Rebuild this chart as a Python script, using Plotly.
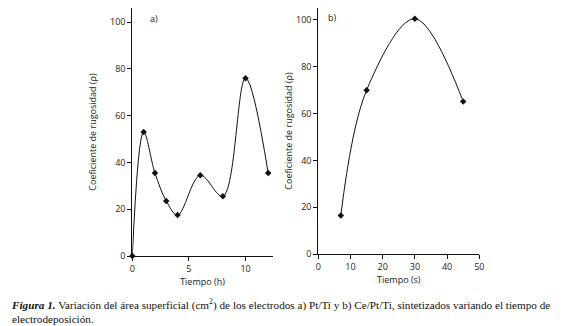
import plotly.graph_objects as go

# Panel a data
time_h = [0, 1, 2, 3, 4, 6, 8, 10, 12]
rug_a = [0, 53, 35.5, 23.5, 17.5, 34.5, 25.5, 76, 35.5]
# Panel b data
time_s = [7, 15, 30, 45]
rug_b = [16.5, 70, 100.5, 65.2]

ytitle = "Coeficiente de rugosidad (ρ)"

# page body has an 8px margin: size the figure so it fills the window
OFF = 8
W, H = 573 - OFF, 326 - OFF


def xp(X):
    return (X - OFF) / W


def yp(Y):
    return 1 - (Y - OFF) / H


fig = go.Figure()
fig.add_trace(go.Scatter(x=time_h, y=rug_a, mode="lines+markers",
                         line=dict(shape="spline", smoothing=1.0, color="#111", width=1),
                         marker=dict(symbol="diamond", size=5, color="#111"),
                         xaxis="x", yaxis="y", showlegend=False, cliponaxis=False))
fig.add_trace(go.Scatter(x=time_s, y=rug_b, mode="lines+markers",
                         line=dict(shape="spline", smoothing=1.0, color="#111", width=1),
                         marker=dict(symbol="diamond", size=5, color="#111"),
                         xaxis="x2", yaxis="y2", showlegend=False, cliponaxis=False))

tickfont = dict(family="Open Sans, sans-serif", size=9, color="#222")
titlefont = dict(family="Open Sans, sans-serif", size=9, color="#222")
common = dict(showline=True, linecolor="#111", linewidth=1, ticks="outside", ticklen=4,
              tickcolor="#111", showgrid=False, zeroline=False, tickfont=tickfont,
              automargin=False)

fig.update_layout(
    width=W, height=H, margin=dict(l=0, r=0, t=0, b=0, autoexpand=False),
    paper_bgcolor="white", plot_bgcolor="white",
    xaxis=dict(domain=[xp(132.3), xp(272.7)], range=[0, 12.4], tickvals=[0, 5, 10],
               anchor="y", title=dict(text="Tiempo (h)", font=titlefont, standoff=4), **common),
    yaxis=dict(domain=[yp(256), 1], range=[0, 106], tickvals=[0, 20, 40, 60, 80, 100],
               anchor="x", title=dict(text=ytitle, font=titlefont, standoff=11), **common),
    xaxis2=dict(domain=[xp(318.3), xp(479.3)], range=[0, 50], tickvals=[0, 10, 20, 30, 40, 50],
                anchor="y2", title=dict(text="Tiempo (s)", font=titlefont, standoff=4), **common),
    yaxis2=dict(domain=[yp(254), 1], range=[0, 105.1], tickvals=[0, 20, 40, 60, 80, 100],
                anchor="x2", title=dict(text=ytitle, font=titlefont, standoff=1), **common),
)

fig.add_annotation(x=xp(148), y=yp(9.5), xref="paper", yref="paper", text="a)",
                   showarrow=False, font=dict(family="Open Sans, sans-serif", size=9, color="#222"))
fig.add_annotation(x=xp(332), y=yp(9), xref="paper", yref="paper", text="b)",
                   showarrow=False, font=dict(family="Open Sans, sans-serif", size=9, color="#222"))

caption = ("<b><i>Figura 1.</i></b> Variación del área superficial (cm<sup>2</sup>) de los electrodos "
           "a) Pt/Ti y b) Ce/Pt/Ti, sintetizados variando el tiempo de<br>electrodeposición.")
fig.add_annotation(x=xp(9), y=yp(294.5), xref="paper", yref="paper", xanchor="left", yanchor="top",
                   align="left", text=caption, showarrow=False,
                   font=dict(family="Liberation Serif, serif", size=11.2, color="#111"))

fig.write_html("out.html")
